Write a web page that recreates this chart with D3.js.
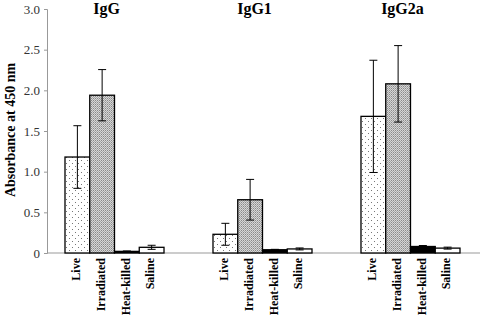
<!DOCTYPE html>
<html>
<head>
<meta charset="utf-8">
<script src="https://cdn.jsdelivr.net/npm/d3@7"></script>
<style>
  body { margin: 0; background: #fff; }
  svg { display: block; font-family: "Liberation Serif", "DejaVu Serif", serif; }
</style>
</head>
<body>
<div id="chart"></div>
<script>
const groups = ["IgG", "IgG1", "IgG2a"];
const treatments = ["Live", "Irradiated", "Heat-killed", "Saline"];
// mean absorbance, per group, in treatment order
const means = [
  [1.18, 1.94, 0.02, 0.07],
  [0.23, 0.655, 0.04, 0.05],
  [1.68, 2.08, 0.08, 0.06],
];
// half-width of error bars
const errs = [
  [0.385, 0.315, 0.005, 0.025],
  [0.135, 0.25, 0.005, 0.012],
  [0.69, 0.47, 0.012, 0.012],
];
const yTicks = [0, 0.5, 1.0, 1.5, 2.0, 2.5, 3.0];

const W = 480, H = 315;
const svg = d3.select("#chart").append("svg")
  .attr("width", W).attr("height", H);

const defs = svg.append("defs");
// sparse dots for Live
const pLive = defs.append("pattern").attr("id", "pLive")
  .attr("patternUnits", "userSpaceOnUse").attr("width", 6).attr("height", 6);
pLive.append("rect").attr("width", 6).attr("height", 6).attr("fill", "#fff");
pLive.append("rect").attr("x", 1).attr("y", 1).attr("width", 1).attr("height", 1).attr("fill", "#777");
pLive.append("rect").attr("x", 4).attr("y", 4).attr("width", 1).attr("height", 1).attr("fill", "#777");
// dense grey texture for Irradiated
const pIrr = defs.append("pattern").attr("id", "pIrr")
  .attr("patternUnits", "userSpaceOnUse").attr("width", 2).attr("height", 2);
pIrr.append("rect").attr("width", 2).attr("height", 2).attr("fill", "#d6d6d6");
pIrr.append("rect").attr("x", 0).attr("y", 0).attr("width", 1).attr("height", 1).attr("fill", "#8a8a8a");
pIrr.append("rect").attr("x", 1).attr("y", 1).attr("width", 1).attr("height", 1).attr("fill", "#a8a8a8");

const fills = ["url(#pLive)", "url(#pIrr)", "#000", "#fff"];

const y = d3.scaleLinear().domain([0, 3]).range([253, 9]);
const gx = d3.scaleBand().domain(groups).range([65, 460]).paddingInner(0.331).paddingOuter(0);
const bx = d3.scaleBand().domain(treatments).range([0, gx.bandwidth()]);

// y axis
const yAxis = svg.append("g").attr("transform", "translate(47,0)")
  .call(d3.axisLeft(y).tickValues(yTicks).tickSize(3).tickPadding(4)
    .tickFormat(d => d === 0 ? "0" : d3.format(".1f")(d)));
yAxis.select(".domain").attr("stroke", "#999");
yAxis.selectAll(".tick line").attr("stroke", "#999");
yAxis.selectAll(".tick text").attr("font-family", "Liberation Serif, serif")
  .attr("font-size", 13).attr("fill", "#333");

svg.append("text")
  .attr("transform", "translate(12,130) rotate(-90)")
  .attr("text-anchor", "middle").attr("dominant-baseline", "middle")
  .attr("font-size", 14).attr("font-weight", "bold")
  .text("Absorbance at 450 nm");

// baseline
svg.append("line").attr("x1", 47).attr("x2", W).attr("y1", y(0)).attr("y2", y(0))
  .attr("stroke", "#999");

groups.forEach((gname, gi) => {
  const g = svg.append("g").attr("transform", `translate(${gx(gname)},0)`);
  g.append("text")
    .attr("x", bx("Heat-killed") - 8).attr("y", 14)
    .attr("text-anchor", "middle").attr("font-size", 16).attr("font-weight", "bold")
    .text(gname);

  treatments.forEach((t, ti) => {
    const v = means[gi][ti], e = errs[gi][ti];
    const x0 = bx(t), bw = bx.bandwidth(), cx = x0 + bw / 2;
    g.append("rect")
      .attr("x", x0).attr("y", y(v)).attr("width", bw).attr("height", y(0) - y(v))
      .attr("fill", fills[ti]).attr("stroke", "#000").attr("stroke-width", 1.3);
    g.append("line").attr("x1", cx).attr("x2", cx)
      .attr("y1", y(v + e)).attr("y2", y(v - e)).attr("stroke", "#000");
    [v + e, v - e].forEach(ev => {
      g.append("line").attr("x1", cx - 4).attr("x2", cx + 4)
        .attr("y1", y(ev)).attr("y2", y(ev)).attr("stroke", "#000");
    });
    g.append("text")
      .attr("transform", `translate(${cx},${y(0) + 5}) rotate(-90)`)
      .attr("text-anchor", "end").attr("dominant-baseline", "middle")
      .attr("font-size", 12).attr("font-weight", "bold")
      .text(t);
  });
});
</script>
</body>
</html>
